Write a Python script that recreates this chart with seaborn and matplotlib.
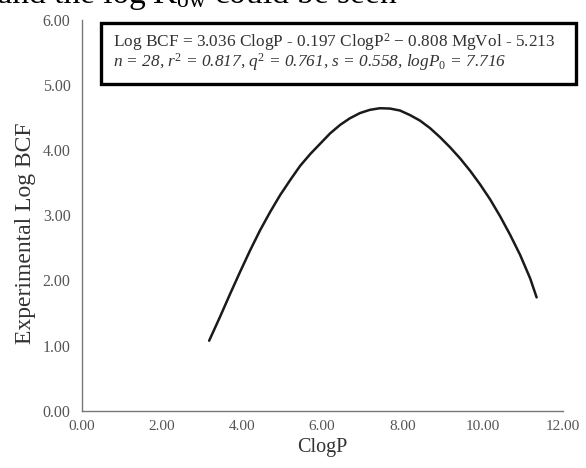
import matplotlib
matplotlib.use("Agg")
import matplotlib.pyplot as plt
import seaborn as sns
import pandas as pd
from matplotlib.patches import Rectangle

# Curve points
clogp = [3.18, 3.45, 3.70, 3.95, 4.20, 4.45, 4.70, 4.95, 5.20, 5.45, 5.70, 5.95,
         6.20, 6.45, 6.69, 6.94, 7.19, 7.44, 7.69, 7.94, 8.19, 8.44, 8.69, 8.94,
         9.19, 9.44, 9.69, 9.94, 10.19, 10.44, 10.69, 10.94, 11.19, 11.35]
log_bcf = [1.075, 1.44, 1.79, 2.13, 2.46, 2.77, 3.05, 3.31, 3.54, 3.76, 3.94, 4.10,
           4.26, 4.39, 4.49, 4.57, 4.62, 4.645, 4.64, 4.61, 4.54, 4.455, 4.34, 4.20,
           4.045, 3.875, 3.685, 3.475, 3.245, 2.985, 2.70, 2.39, 2.03, 1.74]

x_ticks = [0, 2, 4, 6, 8, 10, 12]
y_ticks = [0, 1, 2, 3, 4, 5, 6]

eq_line1 = "Log BCF = 3.036 ClogP - 0.197 ClogP$^{2}$ \u2212 0.808 MgVol - 5.213"
eq_line2 = "n = 28, r$^{2}$ = 0.817, q$^{2}$ = 0.761, s = 0.558, logP$_{0}$ = 7.716"
top_text_a = "r and the log"
top_text_b = "K$_{\\mathrm{ow}}$ could be seen"

sns.set_style("white")
plt.rcParams["font.family"] = ["Liberation Serif", "DejaVu Serif"]
plt.rcParams["mathtext.fontset"] = "custom"
plt.rcParams["mathtext.rm"] = "Liberation Serif"
plt.rcParams["mathtext.it"] = "Liberation Serif:italic"

fig = plt.figure(figsize=(5.86, 4.68), dpi=100)
ax = fig.add_axes([0.1394, 0.1224, 0.8208, 0.8349])

df = pd.DataFrame({"ClogP": clogp, "LogBCF": log_bcf})
sns.lineplot(data=df, x="ClogP", y="LogBCF", ax=ax, color="#1a1a1a", linewidth=1.8, sort=True)

ax.set_xlim(0, 12)
ax.set_ylim(0, 6)
ax.set_xticks(x_ticks)
ax.set_yticks(y_ticks)
ax.set_xticklabels([f"{v:.2f}" for v in x_ticks])
ax.set_yticklabels([f"{v:.2f}" for v in y_ticks])
for s in ["top", "right"]:
    ax.spines[s].set_visible(False)
for s in ["left", "bottom"]:
    ax.spines[s].set_color("#777777")
    ax.spines[s].set_linewidth(1.0)
ax.tick_params(axis="both", direction="out", length=4, width=1.0, color="#777777",
               labelcolor="#555555", pad=4)
ax.tick_params(axis="x", direction="inout", length=6, labelsize=11)
ax.tick_params(axis="y", labelsize=11.5)
ax.set_xlabel("ClogP", fontsize=14.5, color="#333333", labelpad=3)
ax.set_ylabel("Experimental Log BCF", fontsize=17, color="#333333", labelpad=5)
ax.yaxis.label.set_y(0.455)

# Equation box
W, H = 586.0, 468.0
bx0, by0, bx1, by1 = 101, 23, 576, 84
fig.patches.append(Rectangle((bx0 / W + 0.004, 1 - (by1 + 2) / H), (bx1 - bx0) / W, (by1 - by0) / H,
                             transform=fig.transFigure, facecolor="#bbbbbb", edgecolor="none", zorder=2))
fig.patches.append(Rectangle((bx0 / W, 1 - by1 / H), (bx1 - bx0) / W, (by1 - by0) / H,
                             transform=fig.transFigure, facecolor="white", edgecolor="black",
                             linewidth=2.4, zorder=3))
fig.text(113 / W, 1 - 47 / H, eq_line1, fontsize=12.4, color="#333333", va="baseline", zorder=4)
fig.text(113 / W, 1 - 67 / H, eq_line2, fontsize=12.4, color="#333333", style="italic",
         va="baseline", zorder=4)

# Clipped line of surrounding text at the top edge
fig.text(146 / W, 1 - 3 / H, top_text_a, fontsize=24, color="black", va="baseline", ha="right")
fig.text(152 / W, 1 - 3 / H, top_text_b, fontsize=24, color="black", va="baseline", ha="left")

fig.savefig("out.png", dpi=100)
